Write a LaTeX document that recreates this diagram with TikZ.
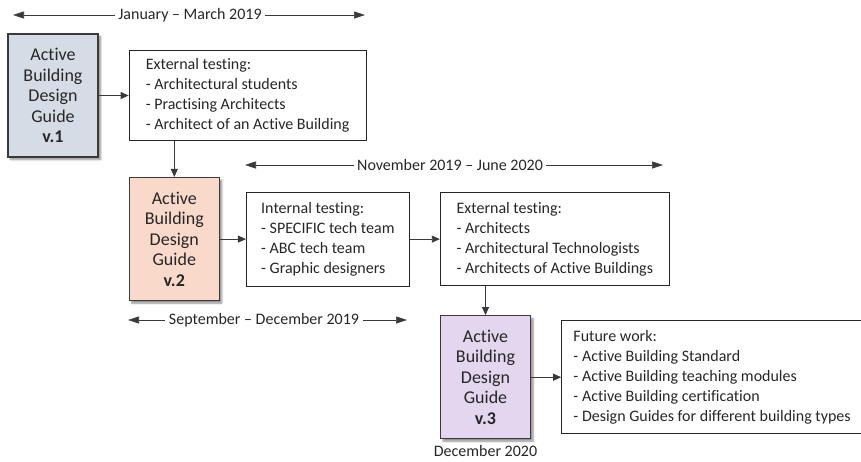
\documentclass[tikz,border=0pt]{standalone}
\usepackage{fontspec}
\setmainfont{Carlito}[Ligatures={TeX,NoCommon}]
\usepackage{xcolor}
\usetikzlibrary{positioning,arrows.meta,shadows.blur}
\definecolor{guideblue}{HTML}{D6DCE5}
\definecolor{guidepeach}{HTML}{F9DACA}
\definecolor{guidelilac}{HTML}{E3D6EE}
\definecolor{lineclr}{HTML}{3A3A3A}
\newcommand{\guide}[1]{Active\\Building\\Design\\Guide\\\textbf{v.#1}}

\begin{document}
\begin{tikzpicture}[x=1pt,y=-1pt,>={Triangle[length=8pt,width=7pt]},
                    every node/.style={text=black!85, font=\fontsize{16}{20}\selectfont}]
  \tikzstyle{version}=[draw=lineclr, line width=1.3pt, minimum width=90pt,
                       minimum height=123pt, align=center, font=\fontsize{18}{20.5}\selectfont,
                       blur shadow={shadow xshift=2.5pt, shadow yshift=-2.5pt,
                                    shadow blur steps=6, shadow opacity=45}]
  \tikzstyle{testing}=[draw=black!85, line width=0.9pt, align=left]
  \tikzstyle{flow}=[->, color=lineclr, line width=0.8pt]
  \tikzstyle{period}=[->, color=lineclr, line width=0.6pt, >={Triangle[length=11pt,width=7pt]}]
  \useasboundingbox (0,0) rectangle (861,461);

  \node[version, fill=guideblue] (V1) at (53,95.5) {\guide{1}};
  \node[testing, minimum width=237pt, minimum height=90pt] (E1) [right=30pt of V1]
       {External testing:\\- Architectural students\\- Practising Architects\\- Architect of an Active Building};
  \node[version, fill=guidepeach] (V2) [below=36pt of E1.south west, anchor=north west] {\guide{2}};
  \node[testing, minimum width=163pt, minimum height=94pt] (I2) [right=26pt of V2]
       {Internal testing:\\- SPECIFIC tech team\\- ABC tech team\\- Graphic designers};
  \node[testing, minimum width=229pt, minimum height=93pt] (E2) [right=30pt of I2]
       {External testing:\\- Architects\\- Architectural Technologists\\- Architects of Active Buildings};
  \node[version, fill=guidelilac] (V3) [below=29pt of E2.south west, anchor=north west] {\guide{3}};
  \node[testing, minimum width=301pt, minimum height=113pt] (F) [right=30pt of V3]
       {Future work:\\- Active Building Standard\\- Active Building teaching modules\\- Active Building certification\\- Design Guides for different building types};
  \node (D3) [below=2pt of V3] {December 2020};

  % time spans
  \node (T1) at (190,15) {January -- March 2019};
  \coordinate (T1a) at (13,15);
  \coordinate (T1b) at (365,15);
  \node (T2) at (450,165) {November 2019 -- June 2020};
  \coordinate (T2a) at (245,165);
  \coordinate (T2b) at (663,165);
  \node (T3) at (264,320) {September -- December 2019};
  \coordinate (T3a) at (128,320);
  \coordinate (T3b) at (407,320);
  \path[period] (T1) edge (T1a) edge (T1b)
                (T2) edge (T2a) edge (T2b)
                (T3) edge (T3a) edge (T3b);

  \path[flow] (V1) edge (E1)
              (E1.south -| V2) edge (V2)
              (V2) edge (I2)
              (I2) edge (E2)
              (E2.south -| V3) edge (V3)
              (V3) edge (F);

\end{tikzpicture}
\end{document}
